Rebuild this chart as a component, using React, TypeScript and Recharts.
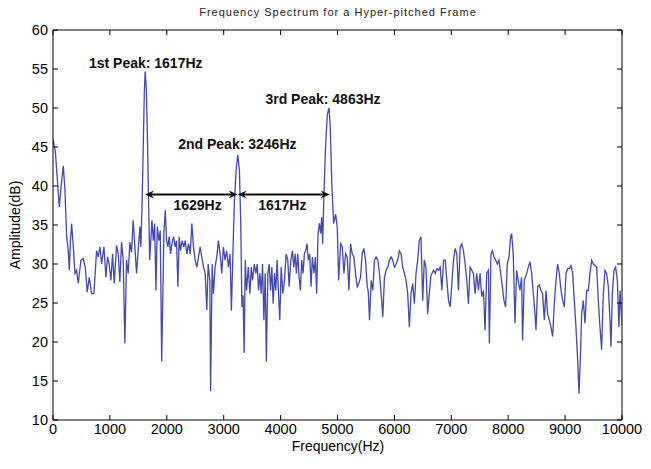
import React from 'react';
import { LineChart, Line, XAxis, YAxis, ReferenceLine, ReferenceDot } from 'recharts';

// frequency (Hz) / amplitude (dB)
const FREQ_HZ = [
  0, 40, 80, 111, 150, 181, 210, 240, 269, 287,
  307, 327, 357, 386, 415, 444, 491, 532, 567, 602,
  637, 678, 719, 766, 795, 825, 854, 895, 930, 959,
  988, 1018, 1047, 1076, 1117, 1146, 1175, 1205, 1234, 1263,
  1292, 1322, 1351, 1380, 1409, 1439, 1468, 1497, 1527, 1544,
  1567, 1590, 1605, 1620, 1640, 1660, 1680, 1699, 1716, 1739,
  1763, 1786, 1809, 1833, 1862, 1885, 1910, 1949, 1973, 1996,
  2020, 2043, 2066, 2090, 2119, 2148, 2171, 2195, 2218, 2241,
  2271, 2300, 2323, 2352, 2382, 2411, 2440, 2469, 2498, 2528,
  2557, 2586, 2615, 2645, 2674, 2703, 2727, 2756, 2770, 2797,
  2820, 2849, 2878, 2907, 2937, 2966, 2995, 3024, 3053, 3083,
  3112, 3135, 3165, 3188, 3218, 3247, 3276, 3300, 3320, 3340,
  3360, 3379, 3402, 3432, 3461, 3484, 3507, 3537, 3566, 3589,
  3613, 3636, 3659, 3683, 3706, 3729, 3750, 3776, 3799, 3823,
  3846, 3869, 3893, 3916, 3939, 3963, 3986, 4010, 4039, 4068,
  4097, 4126, 4150, 4179, 4208, 4231, 4255, 4278, 4301, 4325,
  4348, 4371, 4395, 4418, 4441, 4465, 4488, 4511, 4535, 4558,
  4587, 4611, 4634, 4658, 4681, 4704, 4722, 4739, 4762, 4792,
  4821, 4850, 4873, 4902, 4932, 4967, 4996, 5020, 5055, 5084,
  5113, 5142, 5171, 5201, 5230, 5259, 5288, 5317, 5347, 5376,
  5405, 5434, 5463, 5493, 5522, 5539, 5563, 5592, 5621, 5650,
  5679, 5709, 5738, 5767, 5796, 5825, 5854, 5884, 5913, 5942,
  5971, 6000, 6030, 6059, 6088, 6117, 6146, 6175, 6205, 6234,
  6263, 6292, 6321, 6351, 6380, 6409, 6438, 6467, 6497, 6526,
  6555, 6584, 6613, 6642, 6689, 6718, 6747, 6776, 6805, 6834,
  6864, 6893, 6922, 6951, 6980, 7010, 7039, 7068, 7097, 7126,
  7156, 7185, 7214, 7243, 7272, 7301, 7331, 7360, 7389, 7418,
  7447, 7477, 7506, 7535, 7564, 7593, 7622, 7652, 7669, 7698,
  7722, 7751, 7780, 7809, 7838, 7868, 7897, 7926, 7955, 7984,
  8014, 8043, 8060, 8089, 8119, 8148, 8177, 8206, 8235, 8253,
  8282, 8324, 8354, 8383, 8412, 8441, 8471, 8488, 8518, 8547,
  8576, 8605, 8635, 8664, 8693, 8723, 8752, 8781, 8810, 8840,
  8869, 8898, 8928, 8957, 8986, 9016, 9045, 9074, 9103, 9133,
  9162, 9191, 9221, 9244, 9267, 9291, 9320, 9349, 9379, 9408,
  9437, 9467, 9496, 9525, 9555, 9584, 9613, 9642, 9672, 9701,
  9730, 9760, 9789, 9806, 9830, 9859, 9888, 9918, 9947, 9965,
  9982, 10000,
];

const AMP_DB = [
  46.0, 44.5, 40.5, 37.3, 40.5, 42.6, 39.5, 33.5, 31.7, 29.2,
  33.0, 35.2, 32.2, 28.8, 29.2, 27.5, 30.5, 30.7, 29.6, 26.4,
  28.3, 26.2, 26.2, 31.7, 30.9, 32.2, 30.0, 32.2, 28.3, 30.9,
  30.0, 27.9, 31.3, 27.5, 32.4, 31.3, 27.7, 32.8, 30.5, 19.8,
  30.5, 28.8, 32.8, 31.5, 35.6, 32.2, 28.8, 31.7, 34.8, 32.2,
  38.1, 46.5, 52.0, 54.7, 52.5, 46.0, 38.0, 30.5, 32.6, 35.6,
  33.0, 35.2, 26.6, 34.8, 33.0, 34.3, 17.5, 33.9, 36.9, 33.0,
  32.2, 33.5, 31.3, 32.6, 33.5, 32.2, 33.0, 27.1, 33.5, 31.7,
  33.0, 32.2, 33.0, 31.3, 32.6, 31.3, 35.2, 32.2, 30.5, 29.6,
  30.9, 32.2, 30.9, 29.6, 28.8, 24.1, 30.0, 27.9, 13.7, 30.0,
  26.2, 29.6, 30.9, 33.0, 31.3, 28.8, 32.2, 30.5, 31.7, 29.6,
  31.3, 24.0, 32.2, 38.1, 42.0, 44.0, 42.0, 35.0, 24.5, 26.0,
  18.6, 30.5, 26.6, 29.6, 26.2, 29.6, 27.9, 30.0, 28.8, 30.0,
  26.6, 28.8, 26.2, 30.0, 22.8, 28.8, 17.5, 28.8, 30.0, 26.6,
  29.6, 24.9, 28.8, 26.6, 30.5, 26.2, 22.8, 29.6, 26.2, 27.9,
  31.3, 30.5, 27.1, 30.5, 31.7, 29.6, 31.3, 28.8, 31.3, 28.3,
  26.6, 30.5, 28.8, 31.3, 31.7, 32.6, 30.5, 31.3, 27.1, 30.9,
  28.8, 30.9, 26.2, 33.9, 35.2, 33.9, 36.0, 32.6, 39.0, 45.4,
  49.2, 50.0, 47.5, 39.9, 35.2, 36.4, 34.7, 27.9, 32.6, 32.2,
  28.8, 31.3, 30.9, 26.6, 32.6, 31.3, 30.9, 28.8, 27.1, 27.5,
  28.3, 31.3, 32.0, 30.5, 27.1, 26.6, 22.8, 27.9, 26.6, 30.5,
  30.9, 30.5, 28.8, 26.2, 23.2, 28.3, 29.2, 29.6, 30.5, 30.9,
  30.5, 29.6, 30.0, 30.5, 31.7, 31.3, 29.6, 28.8, 27.9, 26.2,
  21.9, 26.2, 27.5, 24.9, 28.8, 30.5, 33.0, 33.5, 25.3, 30.5,
  29.6, 23.6, 26.2, 28.5, 29.2, 28.8, 29.4, 29.2, 29.6, 26.6,
  30.5, 30.5, 27.9, 25.3, 24.5, 27.5, 30.5, 32.0, 31.3, 26.6,
  32.2, 32.6, 31.7, 30.0, 27.9, 24.9, 29.6, 29.2, 28.8, 26.2,
  28.8, 26.6, 28.8, 25.8, 26.6, 21.5, 28.8, 29.2, 19.8, 31.3,
  31.7, 30.9, 30.5, 30.0, 30.5, 28.8, 27.1, 25.3, 24.5, 30.0,
  30.9, 33.5, 33.9, 31.3, 22.4, 29.2, 27.9, 26.6, 28.3, 20.2,
  27.9, 28.8, 29.6, 30.3, 28.8, 26.2, 23.6, 21.5, 27.1, 27.3,
  26.6, 26.2, 22.8, 26.6, 23.6, 22.8, 21.9, 20.7, 24.9, 27.9,
  30.0, 28.8, 26.6, 25.3, 24.5, 28.8, 29.4, 29.4, 29.8, 28.8,
  25.3, 21.9, 17.7, 13.4, 17.7, 23.6, 25.3, 22.4, 26.6, 26.6,
  28.8, 30.5, 30.0, 29.8, 29.6, 25.3, 21.9, 19.0, 26.2, 29.2,
  28.8, 27.1, 22.8, 19.4, 26.2, 29.2, 29.6, 27.9, 21.9, 26.6,
  24.5, 22.0,
];

const X_TICKS = [0, 1000, 2000, 3000, 4000, 5000, 6000, 7000, 8000, 9000, 10000];
const Y_TICKS = [10, 15, 20, 25, 30, 35, 40, 45, 50, 55, 60];

// peak annotations (text, x in Hz, y in dB)
const PEAK_TEXT = ['1st Peak: 1617Hz', '2nd Peak: 3246Hz', '3rd Peak: 4863Hz'];
const PEAK_X = [1630, 3240, 4745];
const PEAK_Y = [55.8, 45.4, 51.15];

// spacing arrows between the peaks
const GAP_FROM = [1617, 3246];
const GAP_TO = [3246, 4863];
const GAP_LEVEL = 38.9;
const GAP_TEXT = ['1629Hz', '1617Hz'];
const GAP_TEXT_X = [2540, 4030];
const GAP_TEXT_Y = 37.6;

const data = FREQ_HZ.map((f, i) => ({ f, a: AMP_DB[i] }));

const FONT = '"Liberation Sans", Arial, Helvetica, sans-serif';
const W = 651;
const H = 469;
const MARGIN = { top: 30, right: 29, bottom: 0, left: 0 };
const PLOT_TOP = MARGIN.top;
const PLOT_RIGHT = W - MARGIN.right;
const TICK = 5;

// bottom labels + inward ticks on the bottom and top edges
const BottomTick = ({ x, y, payload }: any) => (
  <g>
    <line x1={x} x2={x} y1={y - 4} y2={y - 4 - TICK} stroke="#000" />
    <line x1={x} x2={x} y1={PLOT_TOP} y2={PLOT_TOP + TICK} stroke="#000" />
    <text x={x} y={y} dy="0.71em" textAnchor="middle" fontSize={14.5} fill="#000" fontFamily={FONT}>
      {payload.value}
    </text>
  </g>
);

// left labels + inward ticks on the left and right edges
const LeftTick = ({ x, y, payload }: any) => (
  <g>
    <line x1={x + 5} x2={x + 5 + TICK} y1={y} y2={y} stroke="#000" />
    <line x1={PLOT_RIGHT} x2={PLOT_RIGHT - TICK} y1={y} y2={y} stroke="#000" />
    <text x={x} y={y} dy="0.355em" textAnchor="end" fontSize={14.5} fill="#000" fontFamily={FONT}>
      {payload.value}
    </text>
  </g>
);

const Arrow = ({ x1, y1, x2, y2 }: any) => {
  const h = 9;
  const w = 4;
  return (
    <g>
      <line x1={x1 + 3} y1={y1} x2={x2 - 3} y2={y2} stroke="#111" strokeWidth={2} />
      <path d={`M${x1},${y1} L${x1 + h},${y1 - w} L${x1 + h - 3},${y1} L${x1 + h},${y1 + w} Z`} fill="#111" />
      <path d={`M${x2},${y2} L${x2 - h},${y2 - w} L${x2 - h + 3},${y2} L${x2 - h},${y2 + w} Z`} fill="#111" />
    </g>
  );
};

const boldText = (text: string) => (p: any) => (
  <text x={p.cx} y={p.cy} dy="0.35em" textAnchor="middle" fontSize={14} fontWeight="bold" fill="#111" fontFamily={FONT}>
    {text}
  </text>
);

export default function App() {
  return (
    <div style={{ position: 'absolute', left: 0, top: 0, width: W, height: H, background: '#fff', fontFamily: FONT }}>
      <LineChart width={W} height={H} data={data} margin={MARGIN}>
        <XAxis
          dataKey="f"
          type="number"
          domain={[0, 10000]}
          ticks={X_TICKS}
          interval={0}
          height={49}
          tickSize={0}
          tickMargin={4}
          tickLine={false}
          tick={<BottomTick />}
          axisLine={{ stroke: '#000' }}
          allowDataOverflow
        />
        <YAxis
          type="number"
          domain={[10, 60]}
          ticks={Y_TICKS}
          interval={0}
          width={53}
          tickSize={0}
          tickMargin={5}
          tickLine={false}
          tick={<LeftTick />}
          axisLine={{ stroke: '#000' }}
          allowDataOverflow
        />
        {/* box: top and right edges */}
        <ReferenceLine y={60} stroke="#000" strokeWidth={1} />
        <ReferenceLine x={10000} stroke="#000" strokeWidth={1} />
        <Line
          type="linear"
          dataKey="a"
          stroke="#4349ae"
          strokeWidth={1.3}
          dot={false}
          activeDot={false}
          isAnimationActive={false}
        />
        {GAP_FROM.map((from, i) => (
          <ReferenceLine
            key={`gap-${i}`}
            segment={[{ x: from, y: GAP_LEVEL }, { x: GAP_TO[i], y: GAP_LEVEL }]}
            shape={<Arrow />}
          />
        ))}
        {GAP_TEXT.map((t, i) => (
          <ReferenceDot key={`gt-${i}`} x={GAP_TEXT_X[i]} y={GAP_TEXT_Y} r={0} shape={boldText(t)} />
        ))}
        {PEAK_TEXT.map((t, i) => (
          <ReferenceDot key={`pk-${i}`} x={PEAK_X[i]} y={PEAK_Y[i]} r={0} shape={boldText(t)} />
        ))}
        <text x={338} y={16} textAnchor="middle" fontSize={11} letterSpacing={1} fill="#222" fontFamily={FONT}>
          Frequency Spectrum for a Hyper-pitched Frame
        </text>
        <text x={338} y={451} textAnchor="middle" fontSize={14} fill="#000" fontFamily={FONT}>
          Frequency(Hz)
        </text>
        <text
          x={15}
          y={225}
          transform="rotate(-90, 15, 225)"
          textAnchor="middle"
          dy="0.35em"
          fontSize={14}
          fill="#000"
          fontFamily={FONT}
        >
          Amplitude(dB)
        </text>
      </LineChart>
    </div>
  );
}
